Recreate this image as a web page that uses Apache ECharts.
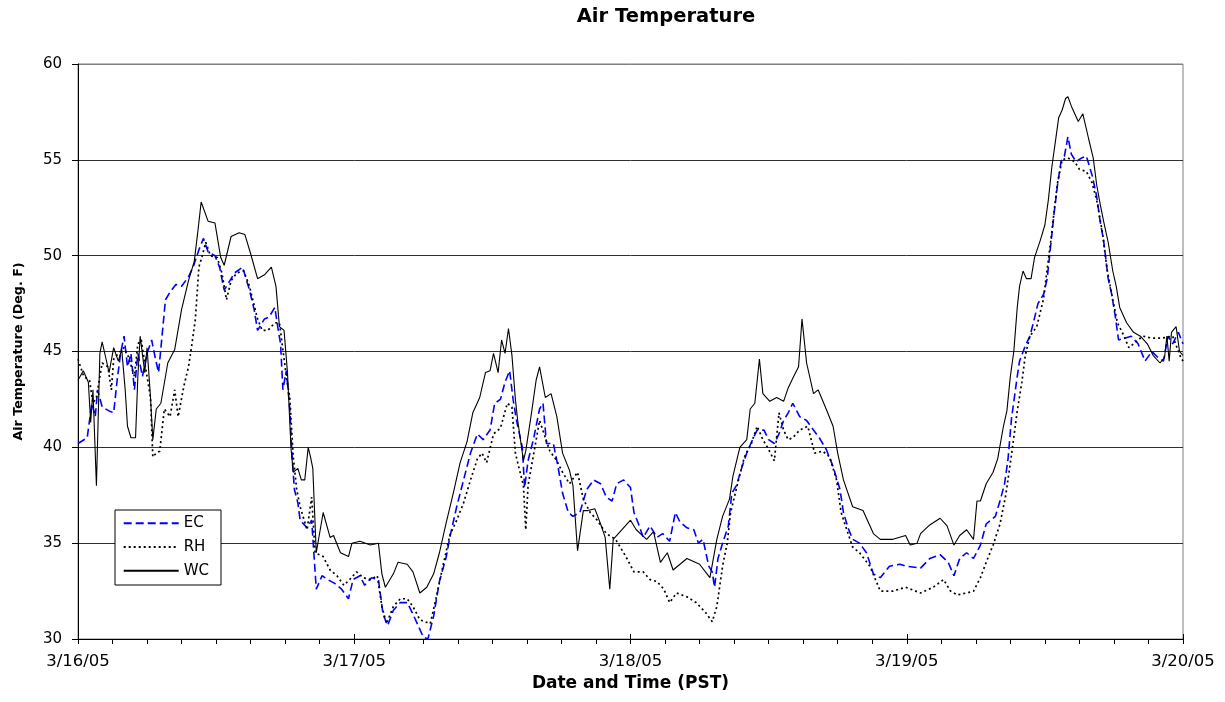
<!DOCTYPE html>
<html>
<head>
<meta charset="utf-8">
<script src="https://cdn.jsdelivr.net/npm/echarts@6/dist/echarts.min.js"></script>
<style>html,body{margin:0;padding:0;background:#fff}#c{width:1225px;height:702px}</style>
</head>
<body>
<div id="c"></div>
<script>
// hours since 3/16/05 00:00 PST
var dayLabels = ['3/16/05','3/17/05','3/18/05','3/19/05','3/20/05'];
var yTicks = [30,35,40,45,50,55,60];

var ecHours = [0,0.8,1.2,1.5,1.7,2.1,2.7,3.1,3.4,3.7,4.0,4.3,4.6,4.9,5.2,5.6,6.0,6.4,6.7,7.0,7.3,7.6,8.0,8.5,9.0,9.6,10.0,10.5,10.9,11.3,11.9,12.3,12.7,13.2,13.6,14.3,14.9,15.3,15.6,16.2,16.6,17.1,17.4,17.6,17.8,18.1,18.4,18.6,18.8,19.1,19.3,19.9,20.3,20.7,21.2,21.7,22.3,22.9,23.5,23.9,24.5,24.9,25.5,26.1,26.5,26.9,27.4,28.0,28.6,29.1,29.7,30.0,30.4,30.9,31.4,32.0,32.3,32.9,33.5,34.1,34.7,35.2,35.8,36.2,36.7,37.1,37.5,37.8,38.1,38.6,38.8,39.1,39.6,40.1,40.4,40.7,41.3,41.7,42.1,42.6,43.0,43.6,44.2,44.8,45.4,45.9,46.4,46.8,47.4,48.0,48.3,48.7,49.1,49.7,50.3,50.8,51.4,51.9,52.3,52.9,53.5,53.9,54.3,54.8,55.1,55.3,55.6,56.0,56.5,56.8,57.2,57.7,58.1,58.6,59.0,59.6,60.0,60.5,60.9,61.3,61.7,62.1,62.7,63.3,63.9,64.4,65.0,65.6,66.2,66.5,66.9,67.3,67.9,68.5,69.1,69.7,70.5,71.4,71.9,73.2,74.0,74.9,75.6,76.1,76.6,77.2,77.8,78.4,78.9,79.7,80.1,80.5,80.8,81.1,81.6,81.8,82.3,82.7,83.0,83.4,83.9,84.2,84.5,84.8,85.1,85.4,85.7,86.0,86.3,86.7,87.2,87.6,88.1,88.5,88.8,89.1,89.5,89.8,90.1,90.4,91.0,91.5,92.1,92.7,93.3,93.8,94.3,94.7,95.1,95.6,96.0];
var ecTemps = [40.2,40.5,42.3,41.6,43.0,42.1,41.9,41.8,43.5,44.9,45.8,44.2,44.9,43.0,44.9,43.7,44.9,45.6,44.7,43.9,45.8,47.7,48.1,48.5,48.4,48.9,49.4,50.3,50.9,50.2,50.0,49.4,48.2,48.7,49.1,49.4,48.2,47.2,46.1,46.7,46.8,47.3,46.1,45.4,43.0,44.0,42.0,39.5,37.8,37.1,36.2,35.8,36.2,32.6,33.3,33.1,32.9,32.6,32.1,33.1,33.3,32.8,33.2,33.1,31.3,30.7,31.5,31.9,31.9,31.3,30.5,30.1,30.0,31.2,33.0,34.3,35.3,36.9,38.3,39.7,40.7,40.4,40.9,42.3,42.5,43.4,44.0,42.5,41.4,40.0,37.9,39.3,40.5,42.0,42.3,40.2,40.2,39.0,37.6,36.6,36.4,36.6,37.8,38.3,38.1,37.4,37.2,38.1,38.3,37.9,36.6,36.0,35.3,35.9,35.3,35.5,35.1,36.6,36.1,35.8,35.7,35.0,35.2,33.8,33.5,32.7,34.2,35.0,35.9,37.6,38.0,39.0,39.7,40.4,40.9,40.9,40.4,40.2,40.7,41.4,41.8,42.3,41.6,41.4,40.9,40.5,39.9,39.0,37.8,36.6,35.8,35.2,35.0,34.5,33.4,33.2,33.8,33.9,33.8,33.7,34.2,34.4,34.0,33.3,34.2,34.5,34.2,34.9,36.0,36.4,37.2,38.1,39.4,41.5,43.7,44.5,45.3,45.8,46.5,47.5,48.0,48.8,50.5,52.2,53.7,54.9,55.2,56.2,55.3,54.9,55.1,55.2,54.2,53.1,51.8,50.8,48.8,48.0,46.9,45.6,45.7,45.8,45.4,44.5,45.0,44.7,44.5,45.8,45.4,46.0,45.4];

var rhHours = [0,0.5,1.0,1.3,1.6,1.9,2.1,2.6,2.9,3.1,3.5,4.0,4.4,4.9,5.2,5.5,5.8,6.0,6.3,6.5,6.8,7.1,7.5,8.0,8.4,8.7,9.2,9.6,9.9,10.2,10.5,10.8,11.1,11.5,12.1,12.5,12.9,13.3,13.8,14.4,14.9,15.1,15.6,16.0,16.5,17.1,17.5,17.8,18.1,18.4,18.7,19.0,19.3,19.9,20.3,20.6,21.3,21.9,22.5,23.1,23.6,24.2,24.8,25.4,26.0,26.4,26.8,27.4,28.0,28.6,29.1,29.7,30.6,31.1,31.7,32.3,32.9,33.5,34.1,34.7,35.1,35.5,36.1,36.7,37.3,37.7,38.0,38.2,38.7,38.9,39.1,39.6,40.1,40.6,41.0,41.6,42.1,42.7,43.4,43.9,44.5,45.1,45.9,46.7,47.6,48.3,49.1,49.7,50.3,50.9,51.4,52.0,52.9,53.7,54.5,55.1,55.5,56.0,56.4,56.7,57.3,57.9,58.5,59.0,59.5,59.9,60.5,60.9,61.3,61.7,62.1,62.7,63.4,64.0,64.7,65.3,65.9,66.3,66.9,67.3,67.9,68.8,69.7,70.8,71.9,73.2,74.3,75.2,75.8,76.4,77.2,77.8,78.4,78.9,79.5,80.1,80.6,81.1,81.6,82.0,82.3,82.7,83.3,83.9,84.2,84.5,84.8,85.1,85.5,86.0,86.6,87.0,87.6,88.1,88.5,89.0,89.4,89.9,90.3,90.8,91.3,91.9,92.5,93.3,94.2,95.1,95.8,96.0];
var rhTemps = [44.6,43.7,43.5,42.3,42.6,43.7,44.4,44.2,43.0,44.6,44.9,45.2,44.7,43.7,45.4,45.6,44.4,43.7,42.6,39.5,39.7,39.8,42.0,41.6,43.0,41.6,43.2,44.2,45.4,46.7,49.4,50.0,50.7,50.0,49.9,49.1,47.7,48.7,49.1,49.2,48.4,47.9,46.7,46.1,46.1,46.5,46.5,45.1,43.7,42.6,39.5,37.8,36.9,35.7,37.4,34.5,34.3,33.6,33.3,32.8,33.1,33.5,33.2,33.1,33.3,31.7,30.8,31.7,32.1,32.1,31.7,31.0,30.8,32.1,33.8,35.4,36.2,37.1,38.3,39.4,39.7,39.2,40.7,41.0,42.3,42.1,39.7,39.2,38.0,35.7,38.0,39.7,41.4,40.5,39.8,39.3,38.7,38.1,38.7,37.3,36.6,36.2,35.5,35.2,34.3,33.5,33.5,33.1,33.0,32.6,31.9,32.4,32.2,31.9,31.4,30.9,31.7,33.8,35.0,36.6,38.1,39.5,40.2,41.1,40.4,40.0,39.3,41.8,40.9,40.4,40.5,40.9,41.1,39.7,39.8,39.5,38.3,36.6,35.5,34.8,34.5,33.8,32.5,32.5,32.7,32.4,32.7,33.1,32.5,32.3,32.4,32.5,33.2,34.0,34.9,36.0,37.5,39.6,41.9,43.4,44.8,45.8,46.3,47.8,49.3,50.7,52.3,53.8,55.0,55.1,54.9,54.5,54.4,53.8,52.9,51.2,49.3,47.7,46.5,45.9,45.2,45.5,45.8,45.7,45.7,45.8,44.7,44.5];

var wcHours = [0,0.46,0.9,1.1,1.3,1.6,1.9,2.1,2.4,2.7,3.1,3.5,3.8,4.1,4.3,4.6,5.0,5.2,5.4,5.8,6.0,6.3,6.5,6.8,7.2,7.8,8.4,9.0,9.6,10.1,10.4,10.7,11.3,11.9,12.4,12.7,13.3,14.0,14.5,15.0,15.6,16.2,16.8,17.2,17.5,17.9,18.2,18.5,18.7,19.1,19.4,19.7,20.0,20.2,20.4,20.7,21.3,21.9,22.2,22.8,23.5,23.8,24.5,25.4,26.1,26.4,26.7,27.4,27.8,28.6,29.1,29.7,30.3,30.9,31.4,32.0,32.6,33.2,33.8,34.3,34.9,35.4,35.8,36.1,36.5,36.8,37.1,37.4,37.7,38.0,38.2,38.7,38.9,39.4,39.8,40.1,40.6,41.1,41.6,42.1,42.7,43.0,43.4,43.9,44.3,44.9,45.4,45.8,46.2,46.5,47.1,48.0,48.5,49.4,50.0,50.6,51.2,51.7,52.9,54.0,54.9,55.5,56.0,56.6,56.9,57.5,58.1,58.4,58.8,59.2,59.5,60.1,60.7,61.3,61.7,62.1,62.6,62.9,63.3,63.9,64.3,65.0,65.6,66.0,66.5,67.3,68.2,69.1,69.7,70.8,71.9,72.3,72.9,73.2,74.0,74.9,75.5,76.1,76.6,77.2,77.8,78.1,78.4,78.9,79.5,79.9,80.4,80.7,81.0,81.3,81.6,81.8,82.1,82.4,82.8,83.1,83.6,84.0,84.3,84.6,84.9,85.2,85.5,85.8,86.0,86.3,86.9,87.3,87.8,88.2,88.5,88.8,89.1,89.5,89.9,90.2,90.5,91.1,91.7,92.3,92.9,93.4,94.0,94.4,94.6,94.8,95.0,95.4,95.7,96.0];
var wcTemps = [43.5,44.0,43.4,41.3,43.0,38.0,44.9,45.5,44.7,43.9,45.2,44.5,45.1,43.0,41.1,40.5,40.5,43.7,45.8,43.9,45.2,42.6,40.4,42.0,42.3,44.4,45.1,47.2,48.7,49.7,51.2,52.8,51.8,51.7,49.9,49.5,51.0,51.2,51.1,50.1,48.8,49.0,49.4,48.4,46.3,46.1,43.9,40.0,38.7,38.9,38.3,38.3,40.0,39.5,38.9,34.5,36.6,35.3,35.4,34.5,34.3,35.0,35.1,34.9,35.0,33.4,32.7,33.4,34.0,33.9,33.5,32.4,32.7,33.4,34.5,36.1,37.6,39.2,40.3,41.8,42.6,43.9,44.0,44.9,43.9,45.6,44.9,46.2,44.8,42.5,41.4,39.3,39.8,41.8,43.5,44.2,42.6,42.8,41.6,39.7,38.8,38.0,34.6,36.7,36.7,36.8,36.0,35.3,32.6,35.2,35.6,36.2,35.7,35.2,35.6,34.0,34.5,33.6,34.2,33.9,33.2,35.2,36.4,37.3,38.5,40.0,40.4,42.0,42.3,44.6,42.8,42.4,42.6,42.4,43.1,43.6,44.2,46.7,44.4,42.8,43.0,42.0,41.1,39.7,38.3,36.9,36.7,35.5,35.2,35.2,35.4,34.9,35.0,35.5,35.95,36.3,35.9,34.9,35.4,35.7,35.2,37.2,37.2,38.1,38.7,39.4,41.1,41.9,43.7,45.0,47.3,48.4,49.2,48.8,48.8,49.9,50.8,51.6,52.9,54.6,55.9,57.2,57.6,58.2,58.3,57.8,57.0,57.4,56.1,55.1,53.7,52.7,51.8,50.7,49.2,48.4,47.3,46.5,46.0,45.8,45.4,44.8,44.4,44.7,45.8,44.5,46.0,46.3,45.0,44.8];

function zip(h, v) { return h.map(function (x, i) { return [x, v[i]]; }); }

var FONT = '"DejaVu Sans", "Liberation Sans", sans-serif';
var chart = echarts.init(document.getElementById('c'), null, { renderer: 'canvas' });
chart.setOption({
  animation: false,
  backgroundColor: '#fff',
  title: {
    text: 'Air Temperature', left: 666, top: 6.5, textAlign: 'center', padding: 0,
    textStyle: { fontFamily: FONT, fontSize: 19.5, fontWeight: 'bold', color: '#000' }
  },
  legend: {
    orient: 'vertical', left: 115, top: 510,
    padding: [5.8, 12, 6.8, 7.7], itemWidth: 55, itemHeight: 15, itemGap: 8.7,
    backgroundColor: '#fff', borderColor: '#000', borderWidth: 1, borderRadius: 0,
    itemStyle: { opacity: 0 },
    textStyle: { fontFamily: FONT, fontSize: 15, color: '#000' },
    data: ['EC', 'RH', 'WC']
  },
  grid: {
    left: 78, right: 42, top: 64, bottom: 63,
    show: true, borderColor: '#808080', borderWidth: 1, backgroundColor: '#fff'
  },
  xAxis: [{
    type: 'value', min: 0, max: 96, interval: 24,
    name: 'Date and Time (PST)', nameLocation: 'middle', nameGap: 36,
    nameTextStyle: { fontFamily: FONT, fontSize: 17, fontWeight: 'bold', color: '#000' },
    axisLine: { show: true, onZero: false, lineStyle: { color: '#000', width: 1 } },
    axisTick: { show: true, length: 5, lineStyle: { color: '#000' } },
    minorTick: { show: true, splitNumber: 8, length: 5, lineStyle: { color: '#000' } },
    axisLabel: {
      margin: 14, fontFamily: FONT, fontSize: 16.5, color: '#000',
      formatter: function (v) { return dayLabels[Math.round(v / 24)]; }
    },
    splitLine: { show: false }
  }, {
    type: 'value', min: 0, max: 96, interval: 24, position: 'bottom',
    axisLine: { show: false }, axisLabel: { show: false }, splitLine: { show: false },
    axisTick: { show: true, inside: true, length: 5, lineStyle: { color: '#000' } }
  }],
  yAxis: {
    type: 'value', min: yTicks[0], max: yTicks[yTicks.length - 1], interval: 5,
    name: 'Air Temperature (Deg. F)', nameLocation: 'middle', nameGap: 53,
    nameTextStyle: { fontFamily: FONT, fontSize: 12.7, fontWeight: 'bold', color: '#000' },
    axisLine: { show: true, lineStyle: { color: '#000', width: 1 } },
    axisTick: { show: true, length: 6, lineStyle: { color: '#000' } },
    axisLabel: { margin: 16, fontFamily: FONT, fontSize: 15, color: '#000' },
    splitLine: { show: true, lineStyle: { color: ['#000', '#303030', '#303030', '#303030', '#303030', '#303030', '#808080'], width: 1 } }
  },
  series: [{
    name: 'EC', type: 'line', symbol: 'none', data: zip(ecHours, ecTemps),
    lineStyle: { color: '#0000ff', width: 1.6, type: [8, 4] }, itemStyle: { color: '#0000ff' }
  }, {
    name: 'RH', type: 'line', symbol: 'none', data: zip(rhHours, rhTemps),
    lineStyle: { color: '#000', width: 1.7, type: [2, 3] }, itemStyle: { color: '#000' }
  }, {
    name: 'WC', type: 'line', symbol: 'none', data: zip(wcHours, wcTemps),
    lineStyle: { color: '#000', width: 1.1, type: 'solid' }, itemStyle: { color: '#000' }
  }]
});
</script>
</body>
</html>
